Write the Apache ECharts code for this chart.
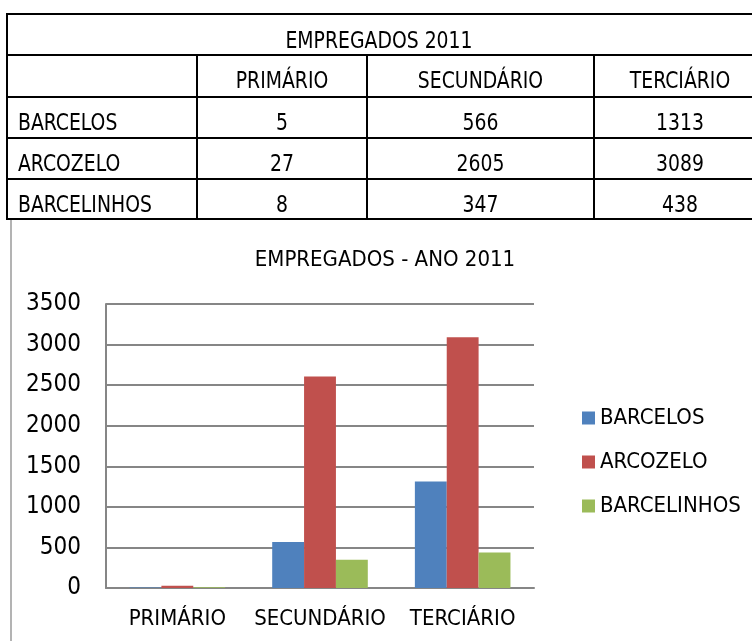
<!DOCTYPE html>
<html>
<head>
<meta charset="utf-8">
<script src="https://cdn.jsdelivr.net/npm/echarts@6/dist/echarts.min.js"></script>
<style>
  html, body { margin: 0; padding: 0; background: #fff; }
  #chart { width: 752px; height: 641px; }
</style>
</head>
<body>
<div id="chart"></div>
<script>
// Employed population by sector, 2011
const tableTitle = 'EMPREGADOS 2011';
const chartTitle = 'EMPREGADOS - ANO 2011';
const sectors = ['PRIMÁRIO', 'SECUNDÁRIO', 'TERCIÁRIO'];
const places = ['BARCELOS', 'ARCOZELO', 'BARCELINHOS'];
const barcelos = [5, 566, 1313];
const arcozelo = [27, 2605, 3089];
const barcelinhos = [8, 347, 438];
const yTicks = [0, 500, 1000, 1500, 2000, 2500, 3000, 3500];
const colors = ['#4F81BD', '#C0504D', '#9BBB59'];

const FONT = "'DejaVu Sans Condensed', 'Liberation Sans Narrow', sans-serif";
const rows = [barcelos, arcozelo, barcelinhos];

// Table geometry
const tLeft = 7, tRight = 766;
const rowY = [14, 55, 97, 138, 179, 219];
const colX = [tLeft, 197, 367, 594, tRight];

const g = [];
// outer frame of the chart panel
g.push({ type: 'rect', shape: { x: 11, y: 219, width: 800, height: 500 },
  style: { fill: null, stroke: '#9a9a9a', lineWidth: 1.5 }, z: 1 });
// table horizontal rules
rowY.forEach(y => g.push({ type: 'line', shape: { x1: tLeft - 1, y1: y, x2: tRight, y2: y },
  style: { stroke: '#000', lineWidth: 2 }, z: 5 }));
// outer left border
g.push({ type: 'line', shape: { x1: tLeft, y1: rowY[0], x2: tLeft, y2: rowY[5] }, style: { stroke: '#000', lineWidth: 2 }, z: 5 });
// inner column rules (below the title row)
colX.slice(1, 4).forEach(x => g.push({ type: 'line', shape: { x1: x, y1: rowY[1], x2: x, y2: rowY[5] },
  style: { stroke: '#000', lineWidth: 2 }, z: 5 }));

function cellText(text, x, y, align) {
  return { type: 'text', x: x, y: y + 6, scaleX: 0.93, z: 6,
    style: { text: text, fill: '#000', font: '22.5px ' + FONT, align: align, verticalAlign: 'middle' } };
}
// title row
g.push(cellText(tableTitle, 379, (rowY[0] + rowY[1]) / 2 + 2, 'center'));
// header row
sectors.forEach((s, i) => g.push(cellText(s, (colX[i + 1] + colX[i + 2]) / 2, (rowY[1] + rowY[2]) / 2, 'center')));
// data rows
places.forEach((p, r) => {
  const cy = (rowY[r + 2] + rowY[r + 3]) / 2 + 1;
  g.push(cellText(p, tLeft + 11, cy, 'left'));
  rows[r].forEach((v, i) => g.push(cellText(String(v), (colX[i + 1] + colX[i + 2]) / 2, cy, 'center')));
});

const chart = echarts.init(document.getElementById('chart'), null, { renderer: 'canvas' });
chart.setOption({
  animation: false,
  color: colors,
  title: {
    text: chartTitle, left: 380, top: 244, textAlign: 'center',
    textStyle: { fontFamily: FONT, fontSize: 22, fontWeight: 'normal', color: '#000' }
  },
  legend: {
    orient: 'vertical', left: 577, top: 402, itemGap: 22, itemWidth: 13, itemHeight: 13, icon: 'rect',
    textStyle: { fontFamily: FONT, fontSize: 22, color: '#000' },
    data: places
  },
  grid: { left: 106, right: 218, top: 304, bottom: 53, containLabel: false },
  xAxis: {
    type: 'category', data: sectors,
    axisLine: { lineStyle: { color: '#868686', width: 2 } },
    axisTick: { show: false },
    axisLabel: { fontFamily: FONT, fontSize: 22, color: '#000', margin: 20, interval: 0 }
  },
  yAxis: {
    type: 'value', min: yTicks[0], max: yTicks[yTicks.length - 1], interval: yTicks[1] - yTicks[0],
    axisLine: { show: true, lineStyle: { color: '#868686', width: 2 } },
    axisTick: { show: false },
    splitLine: { lineStyle: { color: '#868686', width: 2 } },
    axisLabel: { fontFamily: FONT, fontSize: 24, color: '#000', margin: 25, formatter: v => String(v) }
  },
  series: [
    { name: places[0], type: 'bar', data: barcelos, barGap: '0%', barCategoryGap: '33%' },
    { name: places[1], type: 'bar', data: arcozelo, barGap: '0%', barCategoryGap: '33%' },
    { name: places[2], type: 'bar', data: barcelinhos, barGap: '0%', barCategoryGap: '33%' }
  ],
  graphic: g
});
</script>
</body>
</html>
